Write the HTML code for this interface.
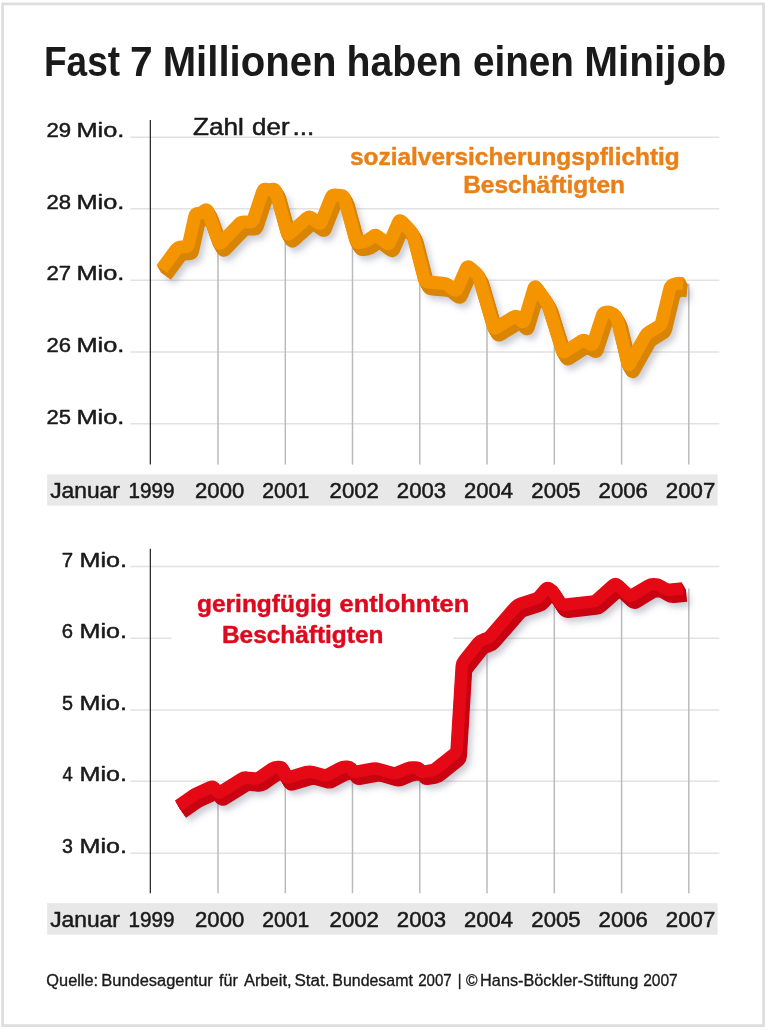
<!DOCTYPE html>
<html lang="de">
<head>
<meta charset="utf-8">
<title>Fast 7 Millionen haben einen Minijob</title>
<style>
html,body{margin:0;padding:0;background:#fff;}
body{width:768px;height:1030px;overflow:hidden;font-family:"Liberation Sans",sans-serif;}
svg{display:block;will-change:transform;}
</style>
</head>
<body>
<svg width="768" height="1030" viewBox="0 0 768 1030" font-family="Liberation Sans, sans-serif">
<defs><filter id="blur" x="-5%" y="-20%" width="110%" height="140%"><feGaussianBlur stdDeviation="3.3"/></filter></defs>
<rect width="768" height="1030" fill="#fff"/>
<rect x="2.6" y="3.9" width="761" height="1021.7" fill="none" stroke="#dedede" stroke-width="2.8"/>
<line x1="130.3" y1="137.2" x2="719.3" y2="137.2" stroke="#e2e2e2" stroke-width="1.4"/>
<line x1="130.3" y1="208.7" x2="719.3" y2="208.7" stroke="#e2e2e2" stroke-width="1.4"/>
<line x1="130.3" y1="280.2" x2="719.3" y2="280.2" stroke="#e2e2e2" stroke-width="1.4"/>
<line x1="130.3" y1="352.0" x2="719.3" y2="352.0" stroke="#e2e2e2" stroke-width="1.4"/>
<line x1="130.3" y1="423.75" x2="719.3" y2="423.75" stroke="#e2e2e2" stroke-width="1.4"/>
<line x1="218.0" y1="240.3" x2="218.0" y2="464.6" stroke="#bbbbbb" stroke-width="1.5"/>
<line x1="285.3" y1="226.1" x2="285.3" y2="464.6" stroke="#bbbbbb" stroke-width="1.5"/>
<line x1="352.5" y1="228.5" x2="352.5" y2="464.6" stroke="#bbbbbb" stroke-width="1.5"/>
<line x1="419.8" y1="261.4" x2="419.8" y2="464.6" stroke="#bbbbbb" stroke-width="1.5"/>
<line x1="487.0" y1="305.1" x2="487.0" y2="464.6" stroke="#bbbbbb" stroke-width="1.5"/>
<line x1="554.3" y1="325.2" x2="554.3" y2="464.6" stroke="#bbbbbb" stroke-width="1.5"/>
<line x1="621.6" y1="337.7" x2="621.6" y2="464.6" stroke="#bbbbbb" stroke-width="1.5"/>
<line x1="688.8" y1="283.8" x2="688.8" y2="464.6" stroke="#bbbbbb" stroke-width="1.5"/>
<line x1="150.35" y1="120.0" x2="150.35" y2="464.6" stroke="#303030" stroke-width="1.3"/>
<rect x="47.2" y="474.4" width="670.4" height="31.2" fill="#e8e8e8"/>
<path d="M169.2 280.5L183.7 260.9Q185.5 258.5 188.5 258.4L192.5 258.2Q195.5 258.1 196.2 255.2L202.3 227.6Q203.0 224.7 205.2 224.9L205.2 224.9Q207.5 225.2 209.9 223.4L211.9 222.1Q214.3 220.3 215.3 223.1L226.0 253.2Q227.0 256.0 229.1 253.8L246.4 235.7Q248.5 233.5 251.5 233.5L257.0 233.5Q260.0 233.5 260.9 230.7L270.1 203.0Q271.0 200.2 273.6 200.8L273.6 200.8Q276.2 201.5 279.1 200.9L279.6 200.8Q282.5 200.2 283.3 203.1L294.5 243.9Q295.3 246.8 297.5 244.8L314.3 229.7Q316.5 227.7 318.9 229.4L325.5 234.1Q327.9 235.8 329.0 233.0L338.4 209.3Q339.5 206.5 342.5 206.6L348.0 206.9Q351.0 207.0 351.8 209.9L363.2 251.6Q364.0 254.5 367.0 254.0L370.5 253.5Q373.5 253.0 375.9 251.2L380.4 247.9Q382.8 246.1 385.2 247.9L393.8 254.4Q396.2 256.2 397.4 253.5L406.0 233.7Q407.2 231.0 409.3 233.2L417.9 242.3Q420.0 244.5 420.7 247.4L431.8 290.4Q432.5 293.3 435.5 293.5L450.5 294.8Q453.5 295.0 455.9 296.8L461.3 301.1Q463.7 302.9 464.9 300.2L473.8 279.8Q475.0 277.1 477.3 279.1L483.5 284.5Q485.8 286.5 486.6 289.4L500.7 337.6Q501.5 340.5 504.1 338.9L520.9 328.6Q523.5 327.0 525.6 329.1L528.9 332.4Q531.0 334.5 531.9 331.6L541.4 299.9Q542.3 297.0 544.0 299.5L553.3 312.5Q555.0 315.0 555.9 317.9L569.6 361.6Q570.5 364.5 573.0 362.9L588.7 352.6Q591.2 351.0 593.7 352.7L597.5 355.3Q600.0 357.0 600.9 354.1L609.6 327.4Q610.5 324.5 613.0 323.9L613.0 323.9Q615.5 323.2 618.2 324.1L618.2 324.1Q621.0 325.0 622.7 327.5L622.8 327.5Q624.5 330.0 625.2 332.9L635.1 374.6Q635.8 377.5 637.3 374.9L652.7 347.6Q654.2 345.0 656.8 343.5L665.9 338.0Q668.5 336.5 669.2 333.6L677.3 300.4Q678.0 297.5 680.7 296.2L681.8 295.8Q684.5 294.5 687.5 294.9L690.7 295.3" fill="none" stroke-width="13.0" stroke-linejoin="round" stroke-linecap="butt" stroke="#5c6478" stroke-opacity="0.32" filter="url(#blur)"/>
<path d="M165.7 276.0L180.2 256.4Q182.0 254.0 185.0 253.9L189.0 253.7Q192.0 253.6 192.7 250.7L198.8 223.1Q199.5 220.2 201.8 220.4L201.8 220.4Q204.0 220.7 206.4 218.9L208.4 217.6Q210.8 215.8 211.8 218.6L222.5 248.7Q223.5 251.5 225.6 249.3L242.9 231.2Q245.0 229.0 248.0 229.0L253.5 229.0Q256.5 229.0 257.4 226.2L266.6 198.5Q267.5 195.7 270.1 196.3L270.1 196.3Q272.7 197.0 275.6 196.4L276.1 196.3Q279.0 195.7 279.8 198.6L291.0 239.4Q291.8 242.3 294.0 240.3L310.8 225.2Q313.0 223.2 315.4 224.9L322.0 229.6Q324.4 231.3 325.5 228.5L334.9 204.8Q336.0 202.0 339.0 202.1L344.5 202.4Q347.5 202.5 348.3 205.4L359.7 247.1Q360.5 250.0 363.5 249.5L367.0 249.0Q370.0 248.5 372.4 246.7L376.9 243.4Q379.3 241.6 381.7 243.4L390.3 249.9Q392.7 251.7 393.9 249.0L402.5 229.2Q403.8 226.5 405.8 228.7L414.4 237.8Q416.5 240.0 417.2 242.9L428.3 285.9Q429.0 288.8 432.0 289.0L447.0 290.3Q450.0 290.5 452.4 292.3L457.8 296.6Q460.2 298.4 461.4 295.7L470.3 275.3Q471.5 272.6 473.8 274.6L480.0 280.0Q482.3 282.0 483.1 284.9L497.2 333.1Q498.0 336.0 500.6 334.4L517.4 324.1Q520.0 322.5 522.1 324.6L525.4 327.9Q527.5 330.0 528.4 327.1L537.9 295.4Q538.8 292.5 540.5 295.0L549.8 308.0Q551.5 310.5 552.4 313.4L566.1 357.1Q567.0 360.0 569.5 358.4L585.2 348.1Q587.8 346.5 590.2 348.2L594.0 350.8Q596.5 352.5 597.4 349.6L606.1 322.9Q607.0 320.0 609.5 319.4L609.5 319.4Q612.0 318.7 614.8 319.6L614.8 319.6Q617.5 320.5 619.2 323.0L619.3 323.0Q621.0 325.5 621.7 328.4L631.6 370.1Q632.3 373.0 633.8 370.4L649.2 343.1Q650.7 340.5 653.3 339.0L662.4 333.5Q665.0 332.0 665.7 329.1L673.8 295.9Q674.5 293.0 677.2 291.7L678.3 291.3Q681.0 290.0 684.0 290.4L687.2 290.8" fill="none" stroke-width="13.0" stroke-linejoin="round" stroke-linecap="butt" stroke="#d98505"/>
<path d="M165.2 275.1L179.7 255.5Q181.5 253.1 184.5 253.0L188.5 252.8Q191.5 252.7 192.2 249.8L198.3 222.3Q199.0 219.3 201.2 219.6L201.2 219.6Q203.5 219.8 205.9 218.1L207.9 216.7Q210.3 214.9 211.3 217.8L222.0 247.8Q223.0 250.6 225.1 248.5L242.4 230.3Q244.5 228.1 247.5 228.1L253.0 228.1Q256.0 228.1 256.9 225.3L266.1 197.7Q267.0 194.8 269.6 195.5L269.6 195.5Q272.2 196.1 275.1 195.5L275.6 195.4Q278.5 194.8 279.3 197.7L290.5 238.5Q291.3 241.4 293.5 239.4L310.3 224.3Q312.5 222.3 314.9 224.1L321.5 228.7Q323.9 230.4 325.0 227.6L334.4 203.9Q335.5 201.1 338.5 201.3L344.0 201.5Q347.0 201.6 347.8 204.5L359.2 246.2Q360.0 249.1 363.0 248.7L366.5 248.1Q369.5 247.6 371.9 245.8L376.4 242.5Q378.8 240.7 381.2 242.5L389.8 249.0Q392.2 250.8 393.4 248.1L402.0 228.4Q403.2 225.6 405.3 227.8L413.9 236.9Q416.0 239.1 416.7 242.0L427.8 285.0Q428.5 287.9 431.5 288.2L446.5 289.4Q449.5 289.6 451.9 291.5L457.3 295.7Q459.7 297.5 460.9 294.8L469.8 274.5Q471.0 271.7 473.3 273.7L479.5 279.2Q481.8 281.1 482.6 284.0L496.7 332.2Q497.5 335.1 500.1 333.6L516.9 323.2Q519.5 321.6 521.6 323.7L524.9 327.0Q527.0 329.1 527.9 326.3L537.4 294.5Q538.3 291.6 540.0 294.1L549.3 307.2Q551.0 309.6 551.9 312.5L565.6 356.3Q566.5 359.1 569.0 357.5L584.7 347.3Q587.2 345.6 589.7 347.3L593.5 349.9Q596.0 351.6 596.9 348.8L605.6 322.0Q606.5 319.1 609.0 318.5L609.0 318.5Q611.5 317.8 614.2 318.7L614.2 318.7Q617.0 319.6 618.7 322.1L618.8 322.2Q620.5 324.6 621.2 327.5L631.1 369.2Q631.8 372.1 633.3 369.5L648.7 342.2Q650.2 339.6 652.8 338.1L661.9 332.7Q664.5 331.1 665.2 328.2L673.3 295.0Q674.0 292.1 676.7 290.9L677.8 290.4Q680.5 289.1 683.5 289.5L686.7 289.9" fill="none" stroke-width="13.0" stroke-linejoin="round" stroke-linecap="butt" stroke="#d98505"/>
<path d="M164.7 274.2L179.2 254.7Q181.0 252.2 184.0 252.1L188.0 252.0Q191.0 251.8 191.7 248.9L197.8 221.4Q198.5 218.4 200.8 218.7L200.8 218.7Q203.0 218.9 205.4 217.2L207.4 215.8Q209.8 214.1 210.8 216.9L221.5 246.9Q222.5 249.8 224.6 247.6L241.9 229.4Q244.0 227.2 247.0 227.2L252.5 227.2Q255.5 227.2 256.4 224.4L265.6 196.8Q266.5 193.9 269.1 194.6L269.1 194.6Q271.7 195.2 274.6 194.6L275.1 194.6Q278.0 193.9 278.8 196.8L290.0 237.7Q290.8 240.6 293.0 238.5L309.8 223.5Q312.0 221.4 314.4 223.2L321.0 227.8Q323.4 229.6 324.5 226.8L333.9 203.0Q335.0 200.2 338.0 200.4L343.5 200.6Q346.5 200.8 347.3 203.6L358.7 245.4Q359.5 248.2 362.5 247.8L366.0 247.2Q369.0 246.8 371.4 245.0L375.9 241.6Q378.3 239.8 380.7 241.7L389.3 248.1Q391.7 249.9 392.9 247.2L401.5 227.5Q402.8 224.8 404.8 226.9L413.4 236.1Q415.5 238.2 416.2 241.2L427.3 284.1Q428.0 287.1 431.0 287.3L446.0 288.5Q449.0 288.8 451.4 290.6L456.8 294.8Q459.2 296.6 460.4 293.9L469.3 273.6Q470.5 270.9 472.8 272.8L479.0 278.3Q481.3 280.2 482.1 283.1L496.2 331.4Q497.0 334.2 499.6 332.7L516.4 322.3Q519.0 320.8 521.1 322.9L524.4 326.1Q526.5 328.2 527.4 325.4L536.9 293.6Q537.8 290.8 539.5 293.2L548.8 306.3Q550.5 308.8 551.4 311.6L565.1 355.4Q566.0 358.2 568.5 356.6L584.2 346.4Q586.8 344.8 589.2 346.4L593.0 349.1Q595.5 350.8 596.4 347.9L605.1 321.1Q606.0 318.2 608.5 317.6L608.5 317.6Q611.0 316.9 613.8 317.9L613.8 317.9Q616.5 318.8 618.2 321.2L618.3 321.3Q620.0 323.8 620.7 326.7L630.6 368.3Q631.3 371.2 632.8 368.6L648.2 341.4Q649.7 338.8 652.3 337.2L661.4 331.8Q664.0 330.2 664.7 327.3L672.8 294.2Q673.5 291.2 676.2 290.0L677.3 289.5Q680.0 288.2 683.0 288.6L686.2 289.1" fill="none" stroke-width="13.0" stroke-linejoin="round" stroke-linecap="butt" stroke="#d98505"/>
<path d="M164.2 273.4L178.7 253.8Q180.5 251.4 183.5 251.3L187.5 251.1Q190.5 251.0 191.2 248.0L197.3 220.5Q198.0 217.6 200.2 217.8L200.2 217.8Q202.5 218.1 204.9 216.3L206.9 214.9Q209.3 213.2 210.3 216.0L221.0 246.0Q222.0 248.9 224.1 246.7L241.4 228.5Q243.5 226.4 246.5 226.4L252.0 226.4Q255.0 226.4 255.9 223.5L265.1 195.9Q266.0 193.1 268.6 193.7L268.6 193.7Q271.2 194.4 274.1 193.8L274.6 193.7Q277.5 193.1 278.3 196.0L289.5 236.8Q290.3 239.7 292.5 237.7L309.3 222.6Q311.5 220.6 313.9 222.3L320.5 226.9Q322.9 228.7 324.0 225.9L333.4 202.2Q334.5 199.4 337.5 199.5L343.0 199.7Q346.0 199.9 346.8 202.8L358.2 244.5Q359.0 247.4 362.0 246.9L365.5 246.3Q368.5 245.9 370.9 244.1L375.4 240.8Q377.8 239.0 380.2 240.8L388.8 247.3Q391.2 249.1 392.4 246.3L401.0 226.6Q402.2 223.9 404.3 226.1L412.9 235.2Q415.0 237.4 415.7 240.3L426.8 283.3Q427.5 286.2 430.5 286.4L445.5 287.6Q448.5 287.9 450.9 289.7L456.3 293.9Q458.7 295.8 459.9 293.0L468.8 272.7Q470.0 270.0 472.3 271.9L478.5 277.4Q480.8 279.4 481.6 282.3L495.7 330.5Q496.5 333.4 499.1 331.8L515.9 321.4Q518.5 319.9 520.6 322.0L523.9 325.3Q526.0 327.4 526.9 324.5L536.4 292.7Q537.3 289.9 539.0 292.3L548.3 305.4Q550.0 307.9 550.9 310.7L564.6 354.5Q565.5 357.4 568.0 355.7L583.7 345.5Q586.2 343.9 588.7 345.6L592.5 348.2Q595.0 349.9 595.9 347.0L604.6 320.2Q605.5 317.4 608.0 316.7L608.0 316.7Q610.5 316.1 613.2 317.0L613.2 317.0Q616.0 317.9 617.7 320.3L617.8 320.4Q619.5 322.9 620.2 325.8L630.1 367.5Q630.8 370.4 632.3 367.8L647.7 340.5Q649.2 337.9 651.8 336.3L660.9 330.9Q663.5 329.4 664.2 326.5L672.3 293.3Q673.0 290.4 675.7 289.1L676.8 288.6Q679.5 287.4 682.5 287.8L685.7 288.2" fill="none" stroke-width="13.0" stroke-linejoin="round" stroke-linecap="butt" stroke="#d98505"/>
<path d="M163.7 272.5L178.2 252.9Q180.0 250.5 183.0 250.4L187.0 250.2Q190.0 250.1 190.7 247.2L196.8 219.6Q197.5 216.7 199.8 216.9L199.8 216.9Q202.0 217.2 204.4 215.4L206.4 214.1Q208.8 212.3 209.8 215.1L220.5 245.2Q221.5 248.0 223.6 245.8L240.9 227.7Q243.0 225.5 246.0 225.5L251.5 225.5Q254.5 225.5 255.4 222.7L264.6 195.0Q265.5 192.2 268.1 192.8L268.1 192.8Q270.7 193.5 273.6 192.9L274.1 192.8Q277.0 192.2 277.8 195.1L289.0 235.9Q289.8 238.8 292.0 236.8L308.8 221.7Q311.0 219.7 313.4 221.4L320.0 226.1Q322.4 227.8 323.5 225.0L332.9 201.3Q334.0 198.5 337.0 198.6L342.5 198.9Q345.5 199.0 346.3 201.9L357.7 243.6Q358.5 246.5 361.5 246.0L365.0 245.5Q368.0 245.0 370.4 243.2L374.9 239.9Q377.3 238.1 379.7 239.9L388.3 246.4Q390.7 248.2 391.9 245.5L400.5 225.7Q401.8 223.0 403.8 225.2L412.4 234.3Q414.5 236.5 415.2 239.4L426.3 282.4Q427.0 285.3 430.0 285.5L445.0 286.8Q448.0 287.0 450.4 288.8L455.8 293.1Q458.2 294.9 459.4 292.2L468.3 271.8Q469.5 269.1 471.8 271.1L478.0 276.5Q480.3 278.5 481.1 281.4L495.2 329.6Q496.0 332.5 498.6 330.9L515.4 320.6Q518.0 319.0 520.1 321.1L523.4 324.4Q525.5 326.5 526.4 323.6L535.9 291.9Q536.8 289.0 538.5 291.5L547.8 304.5Q549.5 307.0 550.4 309.9L564.1 353.6Q565.0 356.5 567.5 354.9L583.2 344.6Q585.8 343.0 588.2 344.7L592.0 347.3Q594.5 349.0 595.4 346.1L604.1 319.4Q605.0 316.5 607.5 315.9L607.5 315.9Q610.0 315.2 612.8 316.1L612.8 316.1Q615.5 317.0 617.2 319.5L617.3 319.5Q619.0 322.0 619.7 324.9L629.6 366.6Q630.3 369.5 631.8 366.9L647.2 339.6Q648.7 337.0 651.3 335.5L660.4 330.0Q663.0 328.5 663.7 325.6L671.8 292.4Q672.5 289.5 675.2 288.2L676.3 287.8Q679.0 286.5 682.0 286.9L685.2 287.3" fill="none" stroke-width="13.0" stroke-linejoin="round" stroke-linecap="butt" stroke="#d98505"/>
<path d="M163.2 271.6L177.7 252.0Q179.5 249.6 182.5 249.5L186.5 249.3Q189.5 249.2 190.2 246.3L196.3 218.8Q197.0 215.8 199.2 216.1L199.2 216.1Q201.5 216.3 203.9 214.6L205.9 213.2Q208.3 211.4 209.3 214.3L220.0 244.3Q221.0 247.1 223.1 245.0L240.4 226.8Q242.5 224.6 245.5 224.6L251.0 224.6Q254.0 224.6 254.9 221.8L264.1 194.2Q265.0 191.3 267.6 192.0L267.6 192.0Q270.2 192.6 273.1 192.0L273.6 191.9Q276.5 191.3 277.3 194.2L288.5 235.0Q289.3 237.9 291.5 235.9L308.3 220.8Q310.5 218.8 312.9 220.6L319.5 225.2Q321.9 226.9 323.0 224.1L332.4 200.4Q333.5 197.6 336.5 197.8L342.0 198.0Q345.0 198.1 345.8 201.0L357.2 242.7Q358.0 245.6 361.0 245.2L364.5 244.6Q367.5 244.1 369.9 242.3L374.4 239.0Q376.8 237.2 379.2 239.0L387.8 245.5Q390.2 247.3 391.4 244.6L400.0 224.9Q401.2 222.1 403.3 224.3L411.9 233.4Q414.0 235.6 414.7 238.5L425.8 281.5Q426.5 284.4 429.5 284.7L444.5 285.9Q447.5 286.1 449.9 288.0L455.3 292.2Q457.7 294.0 458.9 291.3L467.8 271.0Q469.0 268.2 471.3 270.2L477.5 275.7Q479.8 277.6 480.6 280.5L494.7 328.7Q495.5 331.6 498.1 330.1L514.9 319.7Q517.5 318.1 519.6 320.2L522.9 323.5Q525.0 325.6 525.9 322.8L535.4 291.0Q536.3 288.1 538.0 290.6L547.3 303.7Q549.0 306.1 549.9 309.0L563.6 352.8Q564.5 355.6 567.0 354.0L582.7 343.8Q585.2 342.1 587.7 343.8L591.5 346.4Q594.0 348.1 594.9 345.3L603.6 318.5Q604.5 315.6 607.0 315.0L607.0 315.0Q609.5 314.3 612.2 315.2L612.2 315.2Q615.0 316.1 616.7 318.6L616.8 318.7Q618.5 321.1 619.2 324.0L629.1 365.7Q629.8 368.6 631.3 366.0L646.7 338.7Q648.2 336.1 650.8 334.6L659.9 329.2Q662.5 327.6 663.2 324.7L671.3 291.5Q672.0 288.6 674.7 287.4L675.8 286.9Q678.5 285.6 681.5 286.0L684.7 286.4" fill="none" stroke-width="13.0" stroke-linejoin="round" stroke-linecap="butt" stroke="#d98505"/>
<path d="M162.7 270.8L177.2 251.2Q179.0 248.8 182.0 248.6L186.0 248.5Q189.0 248.3 189.7 245.4L195.8 217.9Q196.5 214.9 198.8 215.2L198.8 215.2Q201.0 215.4 203.4 213.7L205.4 212.3Q207.8 210.6 208.8 213.4L219.5 243.4Q220.5 246.2 222.6 244.1L239.9 225.9Q242.0 223.8 245.0 223.8L250.5 223.8Q253.5 223.8 254.4 220.9L263.6 193.3Q264.5 190.4 267.1 191.1L267.1 191.1Q269.7 191.8 272.6 191.1L273.1 191.1Q276.0 190.4 276.8 193.3L288.0 234.2Q288.8 237.1 291.0 235.0L307.8 220.0Q310.0 217.9 312.4 219.7L319.0 224.3Q321.4 226.1 322.5 223.3L331.9 199.5Q333.0 196.8 336.0 196.9L341.5 197.1Q344.5 197.2 345.3 200.1L356.7 241.9Q357.5 244.8 360.5 244.3L364.0 243.7Q367.0 243.2 369.4 241.5L373.9 238.1Q376.3 236.3 378.7 238.2L387.3 244.6Q389.7 246.4 390.9 243.7L399.5 224.0Q400.8 221.2 402.8 223.4L411.4 232.6Q413.5 234.8 414.2 237.7L425.3 280.6Q426.0 283.6 429.0 283.8L444.0 285.0Q447.0 285.2 449.4 287.1L454.8 291.3Q457.2 293.1 458.4 290.4L467.3 270.1Q468.5 267.4 470.8 269.3L477.0 274.8Q479.3 276.8 480.1 279.6L494.2 327.9Q495.0 330.8 497.6 329.2L514.4 318.8Q517.0 317.2 519.1 319.4L522.4 322.6Q524.5 324.8 525.4 321.9L534.9 290.1Q535.8 287.2 537.5 289.7L546.8 302.8Q548.5 305.2 549.4 308.1L563.1 351.9Q564.0 354.8 566.5 353.1L582.2 342.9Q584.8 341.2 587.2 342.9L591.0 345.6Q593.5 347.2 594.4 344.4L603.1 317.6Q604.0 314.8 606.5 314.1L606.5 314.1Q609.0 313.4 611.8 314.4L611.8 314.4Q614.5 315.2 616.2 317.7L616.3 317.8Q618.0 320.2 618.7 323.2L628.6 364.8Q629.3 367.8 630.8 365.1L646.2 337.9Q647.7 335.2 650.3 333.7L659.4 328.3Q662.0 326.8 662.7 323.8L670.8 290.7Q671.5 287.8 674.2 286.5L675.3 286.0Q678.0 284.8 681.0 285.1L684.2 285.6" fill="none" stroke-width="13.0" stroke-linejoin="round" stroke-linecap="butt" stroke="#d98505"/>
<path d="M162.2 269.9L176.7 250.3Q178.5 247.9 181.5 247.8L185.5 247.6Q188.5 247.5 189.2 244.5L195.3 217.0Q196.0 214.1 198.2 214.3L198.2 214.3Q200.5 214.6 202.9 212.8L204.9 211.4Q207.3 209.7 208.3 212.5L219.0 242.5Q220.0 245.4 222.1 243.2L239.4 225.0Q241.5 222.9 244.5 222.9L250.0 222.9Q253.0 222.9 253.9 220.0L263.1 192.4Q264.0 189.6 266.6 190.2L266.6 190.2Q269.2 190.9 272.1 190.3L272.6 190.2Q275.5 189.6 276.3 192.5L287.5 233.3Q288.3 236.2 290.5 234.2L307.3 219.1Q309.5 217.1 311.9 218.8L318.5 223.4Q320.9 225.2 322.0 222.4L331.4 198.7Q332.5 195.9 335.5 196.0L341.0 196.2Q344.0 196.4 344.8 199.3L356.2 241.0Q357.0 243.9 360.0 243.4L363.5 242.8Q366.5 242.4 368.9 240.6L373.4 237.3Q375.8 235.5 378.2 237.3L386.8 243.8Q389.2 245.6 390.4 242.8L399.0 223.1Q400.2 220.4 402.3 222.6L410.9 231.7Q413.0 233.9 413.7 236.8L424.8 279.8Q425.5 282.7 428.5 282.9L443.5 284.1Q446.5 284.4 448.9 286.2L454.3 290.4Q456.7 292.3 457.9 289.5L466.8 269.2Q468.0 266.5 470.3 268.4L476.5 273.9Q478.8 275.9 479.6 278.8L493.7 327.0Q494.5 329.9 497.1 328.3L513.9 317.9Q516.5 316.4 518.6 318.5L521.9 321.8Q524.0 323.9 524.9 321.0L534.4 289.2Q535.3 286.4 537.0 288.8L546.3 301.9Q548.0 304.4 548.9 307.2L562.6 351.0Q563.5 353.9 566.0 352.2L581.7 342.0Q584.2 340.4 586.7 342.1L590.5 344.7Q593.0 346.4 593.9 343.5L602.6 316.7Q603.5 313.9 606.0 313.2L606.0 313.2Q608.5 312.6 611.2 313.5L611.2 313.5Q614.0 314.4 615.7 316.8L615.8 316.9Q617.5 319.4 618.2 322.3L628.1 364.0Q628.8 366.9 630.3 364.3L645.7 337.0Q647.2 334.4 649.8 332.8L658.9 327.4Q661.5 325.9 662.2 323.0L670.3 289.8Q671.0 286.9 673.7 285.6L674.8 285.1Q677.5 283.9 680.5 284.3L683.7 284.7" fill="none" stroke-width="13.0" stroke-linejoin="round" stroke-linecap="butt" stroke="#d98505"/>
<path d="M161.7 269.0L176.2 249.4Q178.0 247.0 181.0 246.9L185.0 246.7Q188.0 246.6 188.7 243.7L194.8 216.1Q195.5 213.2 197.8 213.4L197.8 213.4Q200.0 213.7 202.4 211.9L204.4 210.6Q206.8 208.8 207.8 211.6L218.5 241.7Q219.5 244.5 221.6 242.3L238.9 224.2Q241.0 222.0 244.0 222.0L249.5 222.0Q252.5 222.0 253.4 219.2L262.6 191.5Q263.5 188.7 266.1 189.3L266.1 189.3Q268.7 190.0 271.6 189.4L272.1 189.3Q275.0 188.7 275.8 191.6L287.0 232.4Q287.8 235.3 290.0 233.3L306.8 218.2Q309.0 216.2 311.4 217.9L318.0 222.6Q320.4 224.3 321.5 221.5L330.9 197.8Q332.0 195.0 335.0 195.1L340.5 195.4Q343.5 195.5 344.3 198.4L355.7 240.1Q356.5 243.0 359.5 242.5L363.0 242.0Q366.0 241.5 368.4 239.7L372.9 236.4Q375.3 234.6 377.7 236.4L386.3 242.9Q388.7 244.7 389.9 242.0L398.5 222.2Q399.8 219.5 401.8 221.7L410.4 230.8Q412.5 233.0 413.2 235.9L424.3 278.9Q425.0 281.8 428.0 282.0L443.0 283.3Q446.0 283.5 448.4 285.3L453.8 289.6Q456.2 291.4 457.4 288.7L466.3 268.3Q467.5 265.6 469.8 267.6L476.0 273.0Q478.3 275.0 479.1 277.9L493.2 326.1Q494.0 329.0 496.6 327.4L513.4 317.1Q516.0 315.5 518.1 317.6L521.4 320.9Q523.5 323.0 524.4 320.1L533.9 288.4Q534.8 285.5 536.5 288.0L545.8 301.0Q547.5 303.5 548.4 306.4L562.1 350.1Q563.0 353.0 565.5 351.4L581.2 341.1Q583.8 339.5 586.2 341.2L590.0 343.8Q592.5 345.5 593.4 342.6L602.1 315.9Q603.0 313.0 605.5 312.4L605.5 312.4Q608.0 311.7 610.8 312.6L610.8 312.6Q613.5 313.5 615.2 316.0L615.3 316.0Q617.0 318.5 617.7 321.4L627.6 363.1Q628.3 366.0 629.8 363.4L645.2 336.1Q646.7 333.5 649.3 332.0L658.4 326.5Q661.0 325.0 661.7 322.1L669.8 288.9Q670.5 286.0 673.2 284.7L674.3 284.3Q677.0 283.0 680.0 283.4L683.2 283.8" fill="none" stroke-width="13.0" stroke-linejoin="round" stroke-linecap="butt" stroke="#f39400"/>
<line x1="130.3" y1="566.5" x2="719.3" y2="566.5" stroke="#e2e2e2" stroke-width="1.4"/>
<line x1="130.3" y1="638.2" x2="171.4" y2="638.2" stroke="#e2e2e2" stroke-width="1.4"/>
<line x1="453.4" y1="638.2" x2="719.3" y2="638.2" stroke="#e2e2e2" stroke-width="1.4"/>
<line x1="130.3" y1="710.0" x2="719.3" y2="710.0" stroke="#e2e2e2" stroke-width="1.4"/>
<line x1="130.3" y1="781.2" x2="719.3" y2="781.2" stroke="#e2e2e2" stroke-width="1.4"/>
<line x1="130.3" y1="853.3" x2="719.3" y2="853.3" stroke="#e2e2e2" stroke-width="1.4"/>
<line x1="218.0" y1="793.5" x2="218.0" y2="893.2" stroke="#bbbbbb" stroke-width="1.5"/>
<line x1="285.3" y1="776.0" x2="285.3" y2="893.2" stroke="#bbbbbb" stroke-width="1.5"/>
<line x1="352.5" y1="770.5" x2="352.5" y2="893.2" stroke="#bbbbbb" stroke-width="1.5"/>
<line x1="419.8" y1="769.1" x2="419.8" y2="893.2" stroke="#bbbbbb" stroke-width="1.5"/>
<line x1="487.0" y1="638.4" x2="487.0" y2="893.2" stroke="#bbbbbb" stroke-width="1.5"/>
<line x1="554.3" y1="593.6" x2="554.3" y2="893.2" stroke="#bbbbbb" stroke-width="1.5"/>
<line x1="621.6" y1="588.6" x2="621.6" y2="893.2" stroke="#bbbbbb" stroke-width="1.5"/>
<line x1="688.8" y1="588.5" x2="688.8" y2="893.2" stroke="#bbbbbb" stroke-width="1.5"/>
<line x1="150.35" y1="548.8" x2="150.35" y2="893.2" stroke="#303030" stroke-width="1.3"/>
<rect x="47.2" y="903.1" width="670.4" height="31.6" fill="#e8e8e8"/>
<path d="M186.0 817.1L200.0 807.4Q202.5 805.7 205.2 804.5L217.8 798.7Q220.5 797.5 222.2 800.0L223.8 802.5Q225.5 805.0 228.0 803.4L249.0 790.4Q251.5 788.8 254.5 789.2L261.8 790.0Q264.8 790.4 267.3 788.7L279.5 780.2Q282.0 778.5 285.0 778.5L286.5 778.5Q289.5 778.5 290.5 781.3L292.5 786.7Q293.5 789.5 296.4 788.7L314.0 783.6Q316.9 782.8 319.8 783.6L330.6 786.5Q333.5 787.2 336.1 785.8L347.9 779.4Q350.5 778.0 353.5 778.2L355.0 778.3Q358.0 778.5 359.5 781.1L359.5 781.1Q361.0 783.7 364.0 783.2L380.5 780.2Q383.5 779.7 386.4 780.6L399.2 784.3Q402.1 785.2 404.9 784.1L414.7 780.0Q417.5 778.9 420.5 779.0L423.5 779.1Q426.5 779.2 427.8 781.5L427.8 781.5Q429.0 783.7 432.0 783.2L438.5 782.0Q441.5 781.5 443.8 779.6L461.7 765.4Q464.0 763.5 464.2 760.5L469.3 677.5Q469.5 674.5 471.4 672.2L485.6 654.3Q487.5 652.0 490.4 651.2L493.1 650.3Q496.0 649.5 498.0 647.2L523.0 618.3Q525.0 616.0 527.9 615.1L542.6 610.4Q545.5 609.5 547.4 607.2L552.6 601.1Q554.5 598.8 557.0 600.1L557.0 600.1Q559.5 601.5 561.1 604.0L567.4 614.0Q569.0 616.5 572.0 616.2L599.5 613.1Q602.5 612.8 604.7 610.8L620.8 596.5Q623.0 594.5 625.2 596.5L635.3 606.0Q637.5 608.0 640.1 606.5L655.9 597.0Q658.5 595.5 661.5 595.7L662.5 595.8Q665.5 596.0 668.1 597.6L671.9 599.9Q674.5 601.5 677.5 601.2L690.0 600.0" fill="none" stroke-width="12.5" stroke-linejoin="round" stroke-linecap="butt" stroke="#5c6478" stroke-opacity="0.32" filter="url(#blur)"/>
<path d="M182.5 812.6L196.5 802.9Q199.0 801.2 201.7 800.0L214.3 794.2Q217.0 793.0 218.7 795.5L220.3 798.0Q222.0 800.5 224.5 798.9L245.5 785.9Q248.0 784.3 251.0 784.7L258.3 785.5Q261.3 785.9 263.8 784.2L276.0 775.7Q278.5 774.0 281.5 774.0L283.0 774.0Q286.0 774.0 287.0 776.8L289.0 782.2Q290.0 785.0 292.9 784.2L310.5 779.1Q313.4 778.3 316.3 779.1L327.1 782.0Q330.0 782.8 332.6 781.3L344.4 774.9Q347.0 773.5 350.0 773.7L351.5 773.8Q354.5 774.0 356.0 776.6L356.0 776.6Q357.5 779.2 360.5 778.7L377.0 775.7Q380.0 775.2 382.9 776.1L395.7 779.8Q398.6 780.7 401.4 779.6L411.2 775.5Q414.0 774.4 417.0 774.5L420.0 774.6Q423.0 774.7 424.2 777.0L424.2 777.0Q425.5 779.2 428.5 778.7L435.0 777.5Q438.0 777.0 440.3 775.1L458.2 760.9Q460.5 759.0 460.7 756.0L465.8 673.0Q466.0 670.0 467.9 667.7L482.1 649.8Q484.0 647.5 486.9 646.7L489.6 645.8Q492.5 645.0 494.5 642.7L519.5 613.8Q521.5 611.5 524.4 610.6L539.1 605.9Q542.0 605.0 543.9 602.7L549.1 596.6Q551.0 594.3 553.5 595.6L553.5 595.6Q556.0 597.0 557.6 599.5L563.9 609.5Q565.5 612.0 568.5 611.7L596.0 608.6Q599.0 608.3 601.2 606.3L617.3 592.0Q619.5 590.0 621.7 592.0L631.8 601.5Q634.0 603.5 636.6 602.0L652.4 592.5Q655.0 591.0 658.0 591.2L659.0 591.3Q662.0 591.5 664.6 593.1L668.4 595.4Q671.0 597.0 674.0 596.7L686.5 595.5" fill="none" stroke-width="12.5" stroke-linejoin="round" stroke-linecap="butt" stroke="#c90412"/>
<path d="M182.0 811.7L196.0 802.0Q198.5 800.3 201.2 799.1L213.8 793.4Q216.5 792.1 218.2 794.6L219.8 797.1Q221.5 799.6 224.0 798.0L245.0 785.0Q247.5 783.4 250.5 783.8L257.8 784.7Q260.8 785.0 263.3 783.3L275.5 774.8Q278.0 773.1 281.0 773.1L282.5 773.1Q285.5 773.1 286.5 775.9L288.5 781.3Q289.5 784.1 292.4 783.3L310.0 778.3Q312.9 777.4 315.8 778.2L326.6 781.1Q329.5 781.9 332.1 780.4L343.9 774.1Q346.5 772.6 349.5 772.8L351.0 772.9Q354.0 773.1 355.5 775.7L355.5 775.7Q357.0 778.3 360.0 777.8L376.5 774.9Q379.5 774.3 382.4 775.2L395.2 779.0Q398.1 779.8 400.9 778.7L410.7 774.7Q413.5 773.5 416.5 773.6L419.5 773.7Q422.5 773.8 423.8 776.1L423.8 776.1Q425.0 778.3 428.0 777.8L434.5 776.6Q437.5 776.1 439.8 774.3L457.7 760.0Q460.0 758.1 460.2 755.1L465.3 672.1Q465.5 669.1 467.4 666.8L481.6 649.0Q483.5 646.6 486.4 645.8L489.1 645.0Q492.0 644.1 494.0 641.9L519.0 612.9Q521.0 610.6 523.9 609.7L538.6 605.0Q541.5 604.1 543.4 601.8L548.6 595.7Q550.5 593.4 553.0 594.8L553.0 594.8Q555.5 596.1 557.1 598.7L563.4 608.6Q565.0 611.1 568.0 610.8L595.5 607.8Q598.5 607.4 600.7 605.4L616.8 591.1Q619.0 589.1 621.2 591.2L631.3 600.6Q633.5 602.6 636.1 601.1L651.9 591.7Q654.5 590.1 657.5 590.3L658.5 590.4Q661.5 590.6 664.1 592.2L667.9 594.6Q670.5 596.1 673.5 595.8L686.0 594.6" fill="none" stroke-width="12.5" stroke-linejoin="round" stroke-linecap="butt" stroke="#c90412"/>
<path d="M181.5 810.9L195.5 801.2Q198.0 799.5 200.7 798.2L213.3 792.5Q216.0 791.2 217.7 793.7L219.3 796.3Q221.0 798.8 223.5 797.2L244.5 784.1Q247.0 782.5 250.0 782.9L257.3 783.8Q260.3 784.1 262.8 782.4L275.0 774.0Q277.5 772.2 280.5 772.2L282.0 772.2Q285.0 772.2 286.0 775.1L288.0 780.4Q289.0 783.2 291.9 782.4L309.5 777.4Q312.4 776.5 315.3 777.3L326.1 780.2Q329.0 781.0 331.6 779.6L343.4 773.2Q346.0 771.8 349.0 771.9L350.5 772.1Q353.5 772.2 355.0 774.8L355.0 774.9Q356.5 777.5 359.5 776.9L376.0 774.0Q379.0 773.5 381.9 774.3L394.7 778.1Q397.6 779.0 400.4 777.8L410.2 773.8Q413.0 772.6 416.0 772.7L419.0 772.9Q422.0 773.0 423.2 775.2L423.2 775.2Q424.5 777.5 427.5 776.9L434.0 775.8Q437.0 775.2 439.3 773.4L457.2 759.1Q459.5 757.2 459.7 754.3L464.8 671.2Q465.0 668.2 466.9 665.9L481.1 648.1Q483.0 645.8 485.9 644.9L488.6 644.1Q491.5 643.2 493.5 641.0L518.5 612.0Q520.5 609.8 523.4 608.8L538.1 604.2Q541.0 603.2 542.9 601.0L548.1 594.8Q550.0 592.5 552.5 593.9L552.5 593.9Q555.0 595.2 556.6 597.8L562.9 607.7Q564.5 610.2 567.5 609.9L595.0 606.9Q598.0 606.5 600.2 604.6L616.3 590.2Q618.5 588.2 620.7 590.3L630.8 599.7Q633.0 601.8 635.6 600.2L651.4 590.8Q654.0 589.2 657.0 589.5L658.0 589.5Q661.0 589.8 663.6 591.3L667.4 593.7Q670.0 595.2 673.0 595.0L685.5 593.8" fill="none" stroke-width="12.5" stroke-linejoin="round" stroke-linecap="butt" stroke="#c90412"/>
<path d="M181.0 810.0L195.0 800.3Q197.5 798.6 200.2 797.3L212.8 791.6Q215.5 790.4 217.2 792.9L218.8 795.4Q220.5 797.9 223.0 796.3L244.0 783.3Q246.5 781.7 249.5 782.0L256.8 782.9Q259.8 783.3 262.3 781.6L274.5 773.1Q277.0 771.4 280.0 771.4L281.5 771.4Q284.5 771.4 285.5 774.2L287.5 779.6Q288.5 782.4 291.4 781.5L309.0 776.5Q311.9 775.7 314.8 776.5L325.6 779.3Q328.5 780.1 331.1 778.7L342.9 772.3Q345.5 770.9 348.5 771.1L350.0 771.2Q353.0 771.4 354.5 774.0L354.5 774.0Q356.0 776.6 359.0 776.0L375.5 773.1Q378.5 772.6 381.4 773.4L394.2 777.2Q397.1 778.1 399.9 776.9L409.7 772.9Q412.5 771.8 415.5 771.9L418.5 772.0Q421.5 772.1 422.8 774.3L422.8 774.3Q424.0 776.6 427.0 776.1L433.5 774.9Q436.5 774.4 438.8 772.5L456.7 758.2Q459.0 756.4 459.2 753.4L464.3 670.4Q464.5 667.4 466.4 665.0L480.6 647.2Q482.5 644.9 485.4 644.0L488.1 643.2Q491.0 642.4 493.0 640.1L518.0 611.1Q520.0 608.9 522.9 608.0L537.6 603.3Q540.5 602.4 542.4 600.1L547.6 594.0Q549.5 591.7 552.0 593.0L552.0 593.0Q554.5 594.4 556.1 596.9L562.4 606.8Q564.0 609.4 567.0 609.0L594.5 606.0Q597.5 605.7 599.7 603.7L615.8 589.4Q618.0 587.4 620.2 589.4L630.3 598.8Q632.5 600.9 635.1 599.3L650.9 589.9Q653.5 588.4 656.5 588.6L657.5 588.7Q660.5 588.9 663.1 590.4L666.9 592.8Q669.5 594.4 672.5 594.1L685.0 592.9" fill="none" stroke-width="12.5" stroke-linejoin="round" stroke-linecap="butt" stroke="#c90412"/>
<path d="M180.5 809.1L194.5 799.4Q197.0 797.7 199.7 796.5L212.3 790.7Q215.0 789.5 216.7 792.0L218.3 794.5Q220.0 797.0 222.5 795.4L243.5 782.4Q246.0 780.8 249.0 781.2L256.3 782.0Q259.3 782.4 261.8 780.7L274.0 772.2Q276.5 770.5 279.5 770.5L281.0 770.5Q284.0 770.5 285.0 773.3L287.0 778.7Q288.0 781.5 290.9 780.7L308.5 775.6Q311.4 774.8 314.3 775.6L325.1 778.5Q328.0 779.2 330.6 777.8L342.4 771.4Q345.0 770.0 348.0 770.2L349.5 770.3Q352.5 770.5 354.0 773.1L354.0 773.1Q355.5 775.7 358.5 775.2L375.0 772.2Q378.0 771.7 380.9 772.6L393.7 776.3Q396.6 777.2 399.4 776.1L409.2 772.0Q412.0 770.9 415.0 771.0L418.0 771.1Q421.0 771.2 422.2 773.5L422.2 773.5Q423.5 775.7 426.5 775.2L433.0 774.0Q436.0 773.5 438.3 771.6L456.2 757.4Q458.5 755.5 458.7 752.5L463.8 669.5Q464.0 666.5 465.9 664.2L480.1 646.3Q482.0 644.0 484.9 643.2L487.6 642.3Q490.5 641.5 492.5 639.2L517.5 610.3Q519.5 608.0 522.4 607.1L537.1 602.4Q540.0 601.5 541.9 599.2L547.1 593.1Q549.0 590.8 551.5 592.1L551.5 592.1Q554.0 593.5 555.6 596.0L561.9 606.0Q563.5 608.5 566.5 608.2L594.0 605.1Q597.0 604.8 599.2 602.8L615.3 588.5Q617.5 586.5 619.7 588.5L629.8 598.0Q632.0 600.0 634.6 598.5L650.4 589.0Q653.0 587.5 656.0 587.7L657.0 587.8Q660.0 588.0 662.6 589.6L666.4 591.9Q669.0 593.5 672.0 593.2L684.5 592.0" fill="none" stroke-width="12.5" stroke-linejoin="round" stroke-linecap="butt" stroke="#c90412"/>
<path d="M180.0 808.2L194.0 798.5Q196.5 796.8 199.2 795.6L211.8 789.9Q214.5 788.6 216.2 791.1L217.8 793.6Q219.5 796.1 222.0 794.5L243.0 781.5Q245.5 779.9 248.5 780.3L255.8 781.2Q258.8 781.5 261.3 779.8L273.5 771.3Q276.0 769.6 279.0 769.6L280.5 769.6Q283.5 769.6 284.5 772.4L286.5 777.8Q287.5 780.6 290.4 779.8L308.0 774.8Q310.9 773.9 313.8 774.7L324.6 777.6Q327.5 778.4 330.1 776.9L341.9 770.6Q344.5 769.1 347.5 769.3L349.0 769.4Q352.0 769.6 353.5 772.2L353.5 772.2Q355.0 774.8 358.0 774.3L374.5 771.4Q377.5 770.8 380.4 771.7L393.2 775.5Q396.1 776.3 398.9 775.2L408.7 771.2Q411.5 770.0 414.5 770.1L417.5 770.2Q420.5 770.3 421.8 772.6L421.8 772.6Q423.0 774.8 426.0 774.3L432.5 773.1Q435.5 772.6 437.8 770.8L455.7 756.5Q458.0 754.6 458.2 751.6L463.3 668.6Q463.5 665.6 465.4 663.3L479.6 645.5Q481.5 643.1 484.4 642.3L487.1 641.5Q490.0 640.6 492.0 638.4L517.0 609.4Q519.0 607.1 521.9 606.2L536.6 601.5Q539.5 600.6 541.4 598.3L546.6 592.2Q548.5 589.9 551.0 591.3L551.0 591.3Q553.5 592.6 555.1 595.2L561.4 605.1Q563.0 607.6 566.0 607.3L593.5 604.3Q596.5 603.9 598.7 601.9L614.8 587.6Q617.0 585.6 619.2 587.7L629.3 597.1Q631.5 599.1 634.1 597.6L649.9 588.2Q652.5 586.6 655.5 586.8L656.5 586.9Q659.5 587.1 662.1 588.7L665.9 591.1Q668.5 592.6 671.5 592.3L684.0 591.1" fill="none" stroke-width="12.5" stroke-linejoin="round" stroke-linecap="butt" stroke="#c90412"/>
<path d="M179.5 807.4L193.5 797.7Q196.0 796.0 198.7 794.7L211.3 789.0Q214.0 787.8 215.7 790.2L217.3 792.8Q219.0 795.2 221.5 793.7L242.5 780.6Q245.0 779.0 248.0 779.4L255.3 780.3Q258.3 780.6 260.8 778.9L273.0 770.5Q275.5 768.8 278.5 768.8L280.0 768.8Q283.0 768.8 284.0 771.6L286.0 776.9Q287.0 779.8 289.9 778.9L307.5 773.9Q310.4 773.0 313.3 773.8L324.1 776.7Q327.0 777.5 329.6 776.1L341.4 769.7Q344.0 768.2 347.0 768.4L348.5 768.6Q351.5 768.8 353.0 771.3L353.0 771.4Q354.5 774.0 357.5 773.4L374.0 770.5Q377.0 770.0 379.9 770.8L392.7 774.6Q395.6 775.5 398.4 774.3L408.2 770.3Q411.0 769.1 414.0 769.2L417.0 769.4Q420.0 769.5 421.2 771.7L421.2 771.7Q422.5 774.0 425.5 773.4L432.0 772.3Q435.0 771.8 437.3 769.9L455.2 755.6Q457.5 753.8 457.7 750.8L462.8 667.7Q463.0 664.8 464.9 662.4L479.1 644.6Q481.0 642.2 483.9 641.4L486.6 640.6Q489.5 639.8 491.5 637.5L516.5 608.5Q518.5 606.2 521.4 605.3L536.1 600.7Q539.0 599.8 540.9 597.5L546.1 591.3Q548.0 589.0 550.5 590.4L550.5 590.4Q553.0 591.8 554.6 594.3L560.9 604.2Q562.5 606.8 565.5 606.4L593.0 603.4Q596.0 603.0 598.2 601.1L614.3 586.7Q616.5 584.8 618.7 586.8L628.8 596.2Q631.0 598.2 633.6 596.7L649.4 587.3Q652.0 585.8 655.0 586.0L656.0 586.0Q659.0 586.2 661.6 587.8L665.4 590.2Q668.0 591.8 671.0 591.5L683.5 590.2" fill="none" stroke-width="12.5" stroke-linejoin="round" stroke-linecap="butt" stroke="#c90412"/>
<path d="M179.0 806.5L193.0 796.8Q195.5 795.1 198.2 793.8L210.8 788.1Q213.5 786.9 215.2 789.4L216.8 791.9Q218.5 794.4 221.0 792.8L242.0 779.8Q244.5 778.2 247.5 778.5L254.8 779.4Q257.8 779.8 260.3 778.1L272.5 769.6Q275.0 767.9 278.0 767.9L279.5 767.9Q282.5 767.9 283.5 770.7L285.5 776.1Q286.5 778.9 289.4 778.0L307.0 773.0Q309.9 772.2 312.8 773.0L323.6 775.8Q326.5 776.6 329.1 775.2L340.9 768.8Q343.5 767.4 346.5 767.6L348.0 767.7Q351.0 767.9 352.5 770.5L352.5 770.5Q354.0 773.1 357.0 772.5L373.5 769.6Q376.5 769.1 379.4 769.9L392.2 773.7Q395.1 774.6 397.9 773.4L407.7 769.4Q410.5 768.3 413.5 768.4L416.5 768.5Q419.5 768.6 420.8 770.8L420.8 770.8Q422.0 773.1 425.0 772.6L431.5 771.4Q434.5 770.9 436.8 769.0L454.7 754.7Q457.0 752.9 457.2 749.9L462.3 666.9Q462.5 663.9 464.4 661.5L478.6 643.7Q480.5 641.4 483.4 640.5L486.1 639.7Q489.0 638.9 491.0 636.6L516.0 607.6Q518.0 605.4 520.9 604.5L535.6 599.8Q538.5 598.9 540.4 596.6L545.6 590.5Q547.5 588.2 550.0 589.5L550.0 589.5Q552.5 590.9 554.1 593.4L560.4 603.3Q562.0 605.9 565.0 605.5L592.5 602.5Q595.5 602.2 597.7 600.2L613.8 585.9Q616.0 583.9 618.2 585.9L628.3 595.3Q630.5 597.4 633.1 595.8L648.9 586.4Q651.5 584.9 654.5 585.1L655.5 585.2Q658.5 585.4 661.1 586.9L664.9 589.3Q667.5 590.9 670.5 590.6L683.0 589.4" fill="none" stroke-width="12.5" stroke-linejoin="round" stroke-linecap="butt" stroke="#c90412"/>
<path d="M178.5 805.6L192.5 795.9Q195.0 794.2 197.7 793.0L210.3 787.2Q213.0 786.0 214.7 788.5L216.3 791.0Q218.0 793.5 220.5 791.9L241.5 778.9Q244.0 777.3 247.0 777.7L254.3 778.5Q257.3 778.9 259.8 777.2L272.0 768.7Q274.5 767.0 277.5 767.0L279.0 767.0Q282.0 767.0 283.0 769.8L285.0 775.2Q286.0 778.0 288.9 777.2L306.5 772.1Q309.4 771.3 312.3 772.1L323.1 775.0Q326.0 775.8 328.6 774.3L340.4 767.9Q343.0 766.5 346.0 766.7L347.5 766.8Q350.5 767.0 352.0 769.6L352.0 769.6Q353.5 772.2 356.5 771.7L373.0 768.7Q376.0 768.2 378.9 769.1L391.7 772.8Q394.6 773.7 397.4 772.6L407.2 768.5Q410.0 767.4 413.0 767.5L416.0 767.6Q419.0 767.7 420.2 770.0L420.2 770.0Q421.5 772.2 424.5 771.7L431.0 770.5Q434.0 770.0 436.3 768.1L454.2 753.9Q456.5 752.0 456.7 749.0L461.8 666.0Q462.0 663.0 463.9 660.7L478.1 642.8Q480.0 640.5 482.9 639.7L485.6 638.8Q488.5 638.0 490.5 635.7L515.5 606.8Q517.5 604.5 520.4 603.6L535.1 598.9Q538.0 598.0 539.9 595.7L545.1 589.6Q547.0 587.3 549.5 588.6L549.5 588.6Q552.0 590.0 553.6 592.5L559.9 602.5Q561.5 605.0 564.5 604.7L592.0 601.6Q595.0 601.3 597.2 599.3L613.3 585.0Q615.5 583.0 617.7 585.0L627.8 594.5Q630.0 596.5 632.6 595.0L648.4 585.5Q651.0 584.0 654.0 584.2L655.0 584.3Q658.0 584.5 660.6 586.1L664.4 588.4Q667.0 590.0 670.0 589.7L682.5 588.5" fill="none" stroke-width="12.5" stroke-linejoin="round" stroke-linecap="butt" stroke="#e50916"/>
<text transform="matrix(0.8709 0 0 1 43.99 75.90)" font-size="42.5" font-weight="bold" fill="#1a1a1a">Fast</text>
<text transform="matrix(0.9610 0 0 1 129.97 75.90)" font-size="42.5" font-weight="bold" fill="#1a1a1a">7</text>
<text transform="matrix(0.9446 0 0 1 162.69 75.90)" font-size="42.5" font-weight="bold" fill="#1a1a1a">Millionen</text>
<text transform="matrix(0.9232 0 0 1 346.45 75.90)" font-size="42.5" font-weight="bold" fill="#1a1a1a">haben</text>
<text transform="matrix(0.9099 0 0 1 472.95 75.90)" font-size="42.5" font-weight="bold" fill="#1a1a1a">einen</text>
<text transform="matrix(0.9555 0 0 1 584.16 75.90)" font-size="42.5" font-weight="bold" fill="#1a1a1a">Minijob</text>
<text transform="matrix(1.0544 0 0 1 46.54 137.20)" font-size="21" font-weight="normal" fill="#1a1a1a" stroke="#1a1a1a" stroke-width="0.5" stroke-linejoin="round">29</text>
<text transform="matrix(1.2089 0 0 1 76.42 137.20)" font-size="21" font-weight="normal" fill="#1a1a1a" stroke="#1a1a1a" stroke-width="0.5" stroke-linejoin="round">Mio.</text>
<text transform="matrix(1.0492 0 0 1 46.55 208.70)" font-size="21" font-weight="normal" fill="#1a1a1a" stroke="#1a1a1a" stroke-width="0.5" stroke-linejoin="round">28</text>
<text transform="matrix(1.2089 0 0 1 76.42 208.70)" font-size="21" font-weight="normal" fill="#1a1a1a" stroke="#1a1a1a" stroke-width="0.5" stroke-linejoin="round">Mio.</text>
<text transform="matrix(1.0544 0 0 1 46.54 280.20)" font-size="21" font-weight="normal" fill="#1a1a1a" stroke="#1a1a1a" stroke-width="0.5" stroke-linejoin="round">27</text>
<text transform="matrix(1.2089 0 0 1 76.42 280.20)" font-size="21" font-weight="normal" fill="#1a1a1a" stroke="#1a1a1a" stroke-width="0.5" stroke-linejoin="round">Mio.</text>
<text transform="matrix(1.0492 0 0 1 46.55 352.00)" font-size="21" font-weight="normal" fill="#1a1a1a" stroke="#1a1a1a" stroke-width="0.5" stroke-linejoin="round">26</text>
<text transform="matrix(1.2089 0 0 1 76.42 352.00)" font-size="21" font-weight="normal" fill="#1a1a1a" stroke="#1a1a1a" stroke-width="0.5" stroke-linejoin="round">Mio.</text>
<text transform="matrix(1.0492 0 0 1 46.55 423.75)" font-size="21" font-weight="normal" fill="#1a1a1a" stroke="#1a1a1a" stroke-width="0.5" stroke-linejoin="round">25</text>
<text transform="matrix(1.2089 0 0 1 76.42 423.75)" font-size="21" font-weight="normal" fill="#1a1a1a" stroke="#1a1a1a" stroke-width="0.5" stroke-linejoin="round">Mio.</text>
<text transform="matrix(0.9731 0 0 1 61.73 566.50)" font-size="21" font-weight="normal" fill="#1a1a1a" stroke="#1a1a1a" stroke-width="0.5" stroke-linejoin="round">7</text>
<text transform="matrix(1.1951 0 0 1 79.54 566.50)" font-size="21" font-weight="normal" fill="#1a1a1a" stroke="#1a1a1a" stroke-width="0.5" stroke-linejoin="round">Mio.</text>
<text transform="matrix(0.9626 0 0 1 61.74 638.20)" font-size="21" font-weight="normal" fill="#1a1a1a" stroke="#1a1a1a" stroke-width="0.5" stroke-linejoin="round">6</text>
<text transform="matrix(1.1951 0 0 1 79.54 638.20)" font-size="21" font-weight="normal" fill="#1a1a1a" stroke="#1a1a1a" stroke-width="0.5" stroke-linejoin="round">Mio.</text>
<text transform="matrix(0.9424 0 0 1 61.96 710.00)" font-size="21" font-weight="normal" fill="#1a1a1a" stroke="#1a1a1a" stroke-width="0.5" stroke-linejoin="round">5</text>
<text transform="matrix(1.1951 0 0 1 79.54 710.00)" font-size="21" font-weight="normal" fill="#1a1a1a" stroke="#1a1a1a" stroke-width="0.5" stroke-linejoin="round">Mio.</text>
<text transform="matrix(0.8777 0 0 1 62.38 781.20)" font-size="21" font-weight="normal" fill="#1a1a1a" stroke="#1a1a1a" stroke-width="0.5" stroke-linejoin="round">4</text>
<text transform="matrix(1.1951 0 0 1 79.54 781.20)" font-size="21" font-weight="normal" fill="#1a1a1a" stroke="#1a1a1a" stroke-width="0.5" stroke-linejoin="round">Mio.</text>
<text transform="matrix(0.9325 0 0 1 62.06 853.30)" font-size="21" font-weight="normal" fill="#1a1a1a" stroke="#1a1a1a" stroke-width="0.5" stroke-linejoin="round">3</text>
<text transform="matrix(1.1951 0 0 1 79.54 853.30)" font-size="21" font-weight="normal" fill="#1a1a1a" stroke="#1a1a1a" stroke-width="0.5" stroke-linejoin="round">Mio.</text>
<text transform="matrix(1.0693 0 0 1 50.21 498.00)" font-size="21.3" font-weight="normal" fill="#1a1a1a" stroke="#1a1a1a" stroke-width="0.5" stroke-linejoin="round">Januar</text>
<text transform="matrix(0.9709 0 0 1 128.40 498.00)" font-size="21.3" font-weight="normal" fill="#1a1a1a" stroke="#1a1a1a" stroke-width="0.5" stroke-linejoin="round">1999</text>
<text transform="matrix(1.0384 0 0 1 195.04 498.00)" font-size="21.3" font-weight="normal" fill="#1a1a1a" stroke="#1a1a1a" stroke-width="0.5" stroke-linejoin="round">2000</text>
<text transform="matrix(0.9926 0 0 1 262.35 498.00)" font-size="21.3" font-weight="normal" fill="#1a1a1a" stroke="#1a1a1a" stroke-width="0.5" stroke-linejoin="round">2001</text>
<text transform="matrix(1.0433 0 0 1 329.56 498.00)" font-size="21.3" font-weight="normal" fill="#1a1a1a" stroke="#1a1a1a" stroke-width="0.5" stroke-linejoin="round">2002</text>
<text transform="matrix(1.0409 0 0 1 396.82 498.00)" font-size="21.3" font-weight="normal" fill="#1a1a1a" stroke="#1a1a1a" stroke-width="0.5" stroke-linejoin="round">2003</text>
<text transform="matrix(1.0336 0 0 1 464.09 498.00)" font-size="21.3" font-weight="normal" fill="#1a1a1a" stroke="#1a1a1a" stroke-width="0.5" stroke-linejoin="round">2004</text>
<text transform="matrix(1.0409 0 0 1 531.34 498.00)" font-size="21.3" font-weight="normal" fill="#1a1a1a" stroke="#1a1a1a" stroke-width="0.5" stroke-linejoin="round">2005</text>
<text transform="matrix(1.0409 0 0 1 598.60 498.00)" font-size="21.3" font-weight="normal" fill="#1a1a1a" stroke="#1a1a1a" stroke-width="0.5" stroke-linejoin="round">2006</text>
<text transform="matrix(1.0433 0 0 1 665.86 498.00)" font-size="21.3" font-weight="normal" fill="#1a1a1a" stroke="#1a1a1a" stroke-width="0.5" stroke-linejoin="round">2007</text>
<text transform="matrix(1.0693 0 0 1 50.21 927.00)" font-size="21.3" font-weight="normal" fill="#1a1a1a" stroke="#1a1a1a" stroke-width="0.5" stroke-linejoin="round">Januar</text>
<text transform="matrix(0.9709 0 0 1 128.40 927.00)" font-size="21.3" font-weight="normal" fill="#1a1a1a" stroke="#1a1a1a" stroke-width="0.5" stroke-linejoin="round">1999</text>
<text transform="matrix(1.0384 0 0 1 195.04 927.00)" font-size="21.3" font-weight="normal" fill="#1a1a1a" stroke="#1a1a1a" stroke-width="0.5" stroke-linejoin="round">2000</text>
<text transform="matrix(0.9926 0 0 1 262.35 927.00)" font-size="21.3" font-weight="normal" fill="#1a1a1a" stroke="#1a1a1a" stroke-width="0.5" stroke-linejoin="round">2001</text>
<text transform="matrix(1.0433 0 0 1 329.56 927.00)" font-size="21.3" font-weight="normal" fill="#1a1a1a" stroke="#1a1a1a" stroke-width="0.5" stroke-linejoin="round">2002</text>
<text transform="matrix(1.0409 0 0 1 396.82 927.00)" font-size="21.3" font-weight="normal" fill="#1a1a1a" stroke="#1a1a1a" stroke-width="0.5" stroke-linejoin="round">2003</text>
<text transform="matrix(1.0336 0 0 1 464.09 927.00)" font-size="21.3" font-weight="normal" fill="#1a1a1a" stroke="#1a1a1a" stroke-width="0.5" stroke-linejoin="round">2004</text>
<text transform="matrix(1.0409 0 0 1 531.34 927.00)" font-size="21.3" font-weight="normal" fill="#1a1a1a" stroke="#1a1a1a" stroke-width="0.5" stroke-linejoin="round">2005</text>
<text transform="matrix(1.0409 0 0 1 598.60 927.00)" font-size="21.3" font-weight="normal" fill="#1a1a1a" stroke="#1a1a1a" stroke-width="0.5" stroke-linejoin="round">2006</text>
<text transform="matrix(1.0433 0 0 1 665.86 927.00)" font-size="21.3" font-weight="normal" fill="#1a1a1a" stroke="#1a1a1a" stroke-width="0.5" stroke-linejoin="round">2007</text>
<text transform="matrix(1.1379 0 0 1 192.96 135.20)" font-size="23" font-weight="normal" fill="#1a1a1a" stroke="#1a1a1a" stroke-width="0.5" stroke-linejoin="round">Zahl</text>
<text transform="matrix(1.1242 0 0 1 252.12 135.20)" font-size="23" font-weight="normal" fill="#1a1a1a" stroke="#1a1a1a" stroke-width="0.5" stroke-linejoin="round">der</text>
<text transform="matrix(1.1406 0 0 1 292.49 135.20)" font-size="23" font-weight="normal" fill="#1a1a1a" stroke="#1a1a1a" stroke-width="0.5" stroke-linejoin="round">...</text>
<text transform="matrix(0.9975 0 0 1 349.97 165.40)" font-size="24.5" font-weight="bold" fill="#e98018" stroke="#e98018" stroke-width="0.45" stroke-linejoin="round">sozialversicherungspflichtig</text>
<text transform="matrix(0.9996 0 0 1 463.13 193.40)" font-size="24.5" font-weight="bold" fill="#e98018" stroke="#e98018" stroke-width="0.45" stroke-linejoin="round">Beschäftigten</text>
<text transform="matrix(1.0009 0 0 1 196.94 612.30)" font-size="24.5" font-weight="bold" fill="#dd0a1f" stroke="#dd0a1f" stroke-width="0.45" stroke-linejoin="round">geringfügig</text>
<text transform="matrix(1.0358 0 0 1 339.54 612.30)" font-size="24.5" font-weight="bold" fill="#dd0a1f" stroke="#dd0a1f" stroke-width="0.45" stroke-linejoin="round">entlohnten</text>
<text transform="matrix(0.9971 0 0 1 221.94 642.90)" font-size="24.5" font-weight="bold" fill="#dd0a1f" stroke="#dd0a1f" stroke-width="0.45" stroke-linejoin="round">Beschäftigten</text>
<text transform="matrix(1.0491 0 0 1 46.32 986.30)" font-size="15.6" font-weight="normal" fill="#1a1a1a" stroke="#1a1a1a" stroke-width="0.32" stroke-linejoin="round">Quelle:</text>
<text transform="matrix(1.0538 0 0 1 101.34 986.30)" font-size="15.6" font-weight="normal" fill="#1a1a1a" stroke="#1a1a1a" stroke-width="0.32" stroke-linejoin="round">Bundesagentur</text>
<text transform="matrix(1.0355 0 0 1 219.00 986.30)" font-size="15.6" font-weight="normal" fill="#1a1a1a" stroke="#1a1a1a" stroke-width="0.32" stroke-linejoin="round">für</text>
<text transform="matrix(1.0575 0 0 1 243.91 986.30)" font-size="15.6" font-weight="normal" fill="#1a1a1a" stroke="#1a1a1a" stroke-width="0.32" stroke-linejoin="round">Arbeit,</text>
<text transform="matrix(1.0923 0 0 1 294.39 986.30)" font-size="15.6" font-weight="normal" fill="#1a1a1a" stroke="#1a1a1a" stroke-width="0.32" stroke-linejoin="round">Stat.</text>
<text transform="matrix(1.0226 0 0 1 332.28 986.30)" font-size="15.6" font-weight="normal" fill="#1a1a1a" stroke="#1a1a1a" stroke-width="0.32" stroke-linejoin="round">Bundesamt</text>
<text transform="matrix(0.9692 0 0 1 418.15 986.30)" font-size="15.6" font-weight="normal" fill="#1a1a1a" stroke="#1a1a1a" stroke-width="0.32" stroke-linejoin="round">2007</text>
<text transform="matrix(0.9117 0 0 1 457.85 986.30)" font-size="15.6" font-weight="normal" fill="#1a1a1a" stroke="#1a1a1a" stroke-width="0.32" stroke-linejoin="round">|</text>
<text transform="matrix(1.0004 0 0 1 465.93 986.30)" font-size="15.6" font-weight="normal" fill="#1a1a1a" stroke="#1a1a1a" stroke-width="0.32" stroke-linejoin="round">©</text>
<text transform="matrix(1.0428 0 0 1 480.11 986.30)" font-size="15.6" font-weight="normal" fill="#1a1a1a" stroke="#1a1a1a" stroke-width="0.32" stroke-linejoin="round">Hans-Böckler-Stiftung</text>
<text transform="matrix(0.9978 0 0 1 643.13 986.30)" font-size="15.6" font-weight="normal" fill="#1a1a1a" stroke="#1a1a1a" stroke-width="0.32" stroke-linejoin="round">2007</text>
</svg>
</body>
</html>
